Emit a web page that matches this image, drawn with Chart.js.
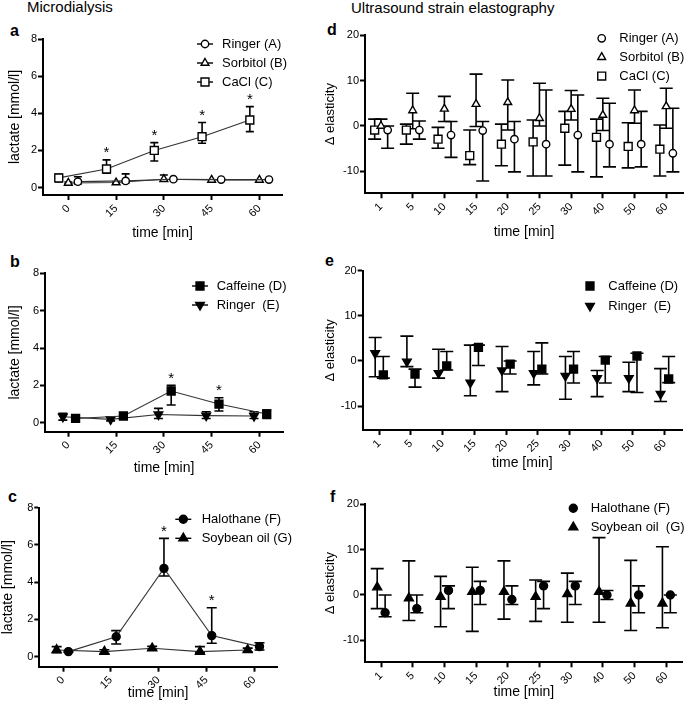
<!DOCTYPE html>
<html>
<head>
<meta charset="utf-8">
<script src="https://cdn.jsdelivr.net/npm/chart.js@4.4.0/dist/chart.umd.min.js"></script>
<style>
body { margin: 0; background: #fff; width: 685px; height: 709px; position: relative; overflow: hidden; font-family: "Liberation Sans", Arial, sans-serif; color: #000; }
canvas { position: absolute; }
.lbl { position: absolute; white-space: pre; line-height: 1; }
.big { font-size: 15px; }
.let { font-size: 16px; font-weight: bold; }
</style>
</head>
<body>
<div class="lbl big" style="left:27px; top:-1px;">Microdialysis</div>
<div class="lbl big" style="left:351px; top:0px;">Ultrasound strain elastography</div>
<div class="lbl let" style="left:10px; top:23px;">a</div>
<div class="lbl let" style="left:10px; top:254px;">b</div>
<div class="lbl let" style="left:8px; top:489px;">c</div>
<div class="lbl let" style="left:327px; top:22px;">d</div>
<div class="lbl let" style="left:325px; top:253px;">e</div>
<div class="lbl let" style="left:330px; top:489px;">f</div>
<script>
// x categories
var timeValues = [0, 15, 30, 45, 60];
var timeLabels = ['0', '15', '30', '45', '60'];
var elastValues = [0, 1, 2, 3, 4, 5, 6, 7, 8, 9];
var elastLabels = ['1', '5', '10', '15', '20', '25', '30', '40', '50', '60'];
var lactateTicks = [0, 2, 4, 6, 8];
var elastTicks = [-10, 0, 10, 20];

// a: microdialysis lactate, Ringer / Sorbitol / CaCl
var ringerA = [0.32, 0.36, 0.45, 0.43, 0.43];
var ringerAHi = [0.58, 0.74, 0.45, 0.43, 0.43];
var ringerALo = [0.2, 0.25, 0.45, 0.43, 0.43];
var sorbitolB = [0.25, 0.27, 0.45, 0.41, 0.41];
var sorbitolBHi = [0.3, 0.3, 0.68, 0.41, 0.41];
var sorbitolBLo = [0.2, 0.2, 0.35, 0.41, 0.41];
var caclC = [0.52, 1.0, 2.0, 2.74, 3.64];
var caclCHi = [0.72, 1.49, 2.42, 3.5, 4.36];
var caclCLo = [0.3, 0.77, 1.43, 2.39, 3.01];
var caclStars = [0, 1, 1, 1, 1];

// b: caffeine / ringer
var caffeineD = [0.23, 0.36, 1.7, 1.0, 0.47];
var caffeineDHi = [0.23, 0.36, 2.0, 1.34, 0.68];
var caffeineDLo = [0.23, 0.36, 0.95, 0.63, 0.23];
var caffeineStars = [0, 0, 1, 1, 0];
var ringerE = [0.32, 0.18, 0.44, 0.38, 0.36];
var ringerEHi = [0.5, 0.32, 0.77, 0.59, 0.59];
var ringerELo = [0.14, 0.1, 0.23, 0.23, 0.23];

// c: halothane / soybean oil
var halothaneF = [0.27, 1.07, 4.74, 1.13, 0.54];
var halothaneFHi = [0.3, 1.4, 6.35, 2.63, 0.75];
var halothaneFLo = [0.24, 0.68, 4.33, 0.72, 0.36];
var halothaneStars = [0, 0, 1, 1, 0];
var soybeanG = [0.36, 0.27, 0.45, 0.27, 0.36];
var soybeanGHi = [0.54, 0.37, 0.55, 0.54, 0.46];
var soybeanGLo = [0.21, 0.17, 0.35, 0.2, 0.26];

// d: elastography, Ringer / Sorbitol / CaCl
var elRingerA = [-0.9, -0.9, -2.0, -1.0, -2.9, -4.0, -2.0, -4.0, -4.0, -6.0];
var elRingerAHi = [0, 1.1, 1.0, 1.0, 1.0, 7.9, 6.8, 5.0, 3.2, 3.9];
var elRingerALo = [-4.9, -2.9, -6.9, -12.1, -10.1, -11, -10.1, -9.0, -9.0, -10.1];
var elSorbitolB = [0, 3.4, 3.75, 4.8, 5.2, 1.7, 3.7, 2.4, 3.4, 4.3];
var elSorbitolBHi = [1.5, 7.2, 6.5, 11.4, 10.1, 9.4, 7.8, 6.1, 7.9, 8.3];
var elSorbitolBLo = [-0.5, -0.6, 1.0, -0.1, -0.9, 0, 1.3, -1.0, 0.6, -0.5];
var elCaclC = [-0.9, -0.9, -2.9, -6.5, -4.0, -3.5, -0.5, -2.5, -4.5, -5.1];
var elCaclCHi = [1.5, 0.4, -0.3, -0.9, 0.4, 1.3, 3.2, 1.5, 0.7, 0.2];
var elCaclCLo = [-2.9, -4.0, -4.9, -8.5, -8.75, -11, -8.6, -11.2, -9.2, -11];

// e: caffeine / ringer
var elCaffeineD = [-3.1, -2.9, -1.1, 3.0, -0.7, -1.8, -1.8, 0.2, 1.1, -4.0];
var elCaffeineDHi = [1.0, -1.8, 2.1, 3.5, 0, 4.0, 2.1, 1.0, 1.7, 1.0];
var elCaffeineDLo = [-3.8, -5.8, -2.0, -1.0, -2.9, -2.9, -4.9, -4.9, -7.0, -4.8];
var elRingerE = [1.7, -0.15, -2.7, -4.8, -2.1, -2.7, -3.3, -3.8, -3.8, -7.3];
var elRingerEHi = [5.2, 5.5, 2.6, 3.5, 3.2, 2.1, 1.0, -2.1, -0.3, -1.7];
var elRingerELo = [-3.5, -1.25, -3.8, -7.7, -6.8, -5.3, -8.5, -7.9, -6.8, -9.0];

// f: halothane / soybean oil
var elHalothaneF = [-3.9, -3.0, 1.0, 1.0, -1.0, 2.0, 2.0, 0.0, 0.0, 0.0];
var elHalothaneFHi = [0, 0, 2.0, 3.0, 2.0, 3.0, 3.0, 1.0, 2.0, 0];
var elHalothaneFLo = [-4.8, -3.9, -3.0, -2.1, -2.1, -3.0, -2.1, -1.0, -3.9, -3.9];
var elSoybeanG = [1.7, -0.7, -0.4, 0.7, 0.7, -0.4, 0.2, 0.7, -1.85, -1.85];
var elSoybeanGHi = [5.8, 7.5, 4.1, 6.1, 7.5, 3.3, 4.8, 12.6, 7.6, 10.6];
var elSoybeanGLo = [-3.0, -5.6, -7.0, -8.0, -5.3, -5.8, -6.0, -6.0, -7.8, -7.2];

Chart.defaults.font.family = '"Liberation Sans", Arial, sans-serif';
Chart.defaults.color = '#000';

// marker looks
var openCircle = { pointStyle: 'circle', r: 3.7, fill: '#fff' };
var openTri = { pointStyle: 'triangle', r: 4.5, fill: '#fff' };
var openSquare = { pointStyle: 'rect', r: 5.6, fill: '#fff' };
var fillSquare = { pointStyle: 'rect', r: 5.6, fill: '#000' };
var fillDown = { pointStyle: 'triangle', r: 5, fill: '#000', rot: 180 };
var fillCircle = { pointStyle: 'circle', r: 4, fill: '#000' };
var fillTri = { pointStyle: 'triangle', r: 5.2, fill: '#000' };

// error bars drawn under the markers, stars above the bars
var errorBars = {
  id: 'errorBars',
  beforeDatasetsDraw: function (chart, args, opts) {
    var ctx = chart.ctx, ys = chart.scales.y;
    ctx.save();
    ctx.strokeStyle = '#000';
    ctx.lineWidth = 1.6;
    chart.data.datasets.forEach(function (ds, i) {
      var meta = chart.getDatasetMeta(i);
      meta.data.forEach(function (pt, j) {
        var top = ys.getPixelForValue(ds.errHi[j]);
        var bot = ys.getPixelForValue(ds.errLo[j]);
        if (Math.abs(bot - top) < 1) return;
        ctx.beginPath();
        ctx.moveTo(pt.x, top); ctx.lineTo(pt.x, bot);
        ctx.moveTo(pt.x - opts.cap, top); ctx.lineTo(pt.x + opts.cap, top);
        ctx.moveTo(pt.x - opts.cap, bot); ctx.lineTo(pt.x + opts.cap, bot);
        ctx.stroke();
      });
    });
    ctx.restore();
  },
  afterDatasetsDraw: function (chart) {
    var ctx = chart.ctx, ys = chart.scales.y;
    ctx.save();
    ctx.fillStyle = '#000';
    ctx.font = '15px "Liberation Sans", Arial, sans-serif';
    ctx.textAlign = 'center';
    ctx.textBaseline = 'alphabetic';
    chart.data.datasets.forEach(function (ds, i) {
      if (!ds.stars) return;
      var meta = chart.getDatasetMeta(i);
      meta.data.forEach(function (pt, j) {
        if (!ds.stars[j]) return;
        ctx.fillText('*', pt.x, ys.getPixelForValue(ds.errHi[j]) - 2.5);
      });
    });
    ctx.restore();
  }
};

// legend in the upper right of each panel
var sideLegend = {
  id: 'sideLegend',
  afterDraw: function (chart, args, opts) {
    var ctx = chart.ctx;
    ctx.save();
    ctx.font = '13px "Liberation Sans", Arial, sans-serif';
    ctx.textBaseline = 'middle';
    chart.data.datasets.forEach(function (ds, i) {
      var y = opts.y + i * opts.gap;
      ctx.strokeStyle = '#000';
      ctx.lineWidth = 1.4;
      if (opts.line) {
        ctx.beginPath();
        ctx.moveTo(opts.x - opts.line / 2, y);
        ctx.lineTo(opts.x + opts.line / 2, y);
        ctx.stroke();
      }
      ctx.fillStyle = ds.pointBackgroundColor;
      ctx.beginPath();
      Chart.helpers.drawPoint(ctx, {
        pointStyle: ds.pointStyle, radius: ds.pointRadius,
        rotation: ds.pointRotation || 0, borderWidth: ds.pointBorderWidth
      }, opts.x, y);
      ctx.fillStyle = '#000';
      ctx.fillText(ds.label, opts.textX, y);
    });
    ctx.restore();
  }
};

function makeSeries(label, xs, shift, ys, lo, hi, look, joined, stars) {
  return {
    label: label,
    data: xs.map(function (x, i) { return { x: x + shift, y: ys[i] }; }),
    errLo: lo,
    errHi: hi,
    stars: stars,
    showLine: joined,
    borderColor: '#333',
    borderWidth: 1.1,
    tension: 0,
    pointStyle: look.pointStyle,
    pointRadius: look.r,
    pointHoverRadius: look.r,
    pointRotation: look.rot || 0,
    pointBackgroundColor: look.fill,
    pointBorderColor: '#000',
    pointBorderWidth: 1.4
  };
}

function makePanel(p) {
  var cv = document.createElement('canvas');
  cv.width = p.box[2];
  cv.height = p.box[3];
  cv.style.left = p.box[0] + 'px';
  cv.style.top = p.box[1] + 'px';
  document.body.appendChild(cv);
  var yW = p.plot[0] - p.box[0];
  var xH = p.xAxisH;
  new Chart(cv, {
    type: 'line',
    data: { datasets: p.series },
    options: {
      responsive: false,
      animation: false,
      events: [],
      layout: {
        autoPadding: false,
        padding: {
          left: 0,
          top: p.plot[1] - p.box[1],
          right: p.box[0] + p.box[2] - p.plot[2],
          bottom: p.box[1] + p.box[3] - p.plot[3] - xH
        }
      },
      scales: {
        x: {
          type: 'linear',
          min: p.xMin, max: p.xMax,
          afterBuildTicks: function (s) { s.ticks = p.xVals.map(function (v) { return { value: v }; }); },
          afterFit: function (s) { s.height = xH; },
          ticks: {
            autoSkip: false, minRotation: 45, maxRotation: 45, padding: 2,
            font: { size: 11 },
            callback: function (v) { return p.xLabels[p.xVals.indexOf(v)]; }
          },
          grid: { drawOnChartArea: false, drawTicks: true, tickLength: 5, color: '#000', tickWidth: 2 },
          border: { display: true, color: '#000', width: 2 },
          title: { display: true, text: 'time [min]', font: { size: 14, weight: 'normal' }, padding: { top: 0, bottom: 0 } }
        },
        y: {
          type: 'linear',
          min: p.yMin, max: p.yMax,
          afterBuildTicks: function (s) { s.ticks = p.yTicks.map(function (v) { return { value: v }; }); },
          afterFit: function (s) { s.width = yW; },
          ticks: { padding: 1, font: { size: 11 } },
          grid: { drawOnChartArea: false, drawTicks: true, tickLength: 5, color: '#000', tickWidth: 2 },
          border: { display: true, color: '#000', width: 2 },
          title: { display: true, text: p.yTitle, font: { size: p.yTitleSize, weight: 'normal' }, padding: { top: p.yTitlePad, bottom: 0 } }
        }
      },
      plugins: {
        legend: { display: false },
        tooltip: { enabled: false },
        errorBars: { cap: p.cap },
        sideLegend: {
          x: p.legend.x - p.box[0], y: p.legend.y - p.box[1],
          gap: p.legend.gap, textX: p.legend.textX - p.box[0], line: p.legend.line
        }
      }
    },
    plugins: [errorBars, sideLegend]
  });
}

// a
makePanel({
  box: [0, 0, 340, 250], plot: [43, 39, 282, 195], xAxisH: 46.4,
  xMin: -7.95, xMax: 67.1, xVals: timeValues, xLabels: timeLabels,
  yMin: -0.4, yMax: 8, yTicks: lactateTicks,
  yTitle: 'lactate [mmol/l]', yTitleSize: 14, yTitlePad: 6.6, cap: 4,
  legend: { x: 205, y: 44, gap: 19, textX: 222, line: 16 },
  series: [
    makeSeries('Ringer (A)', timeValues, 3, ringerA, ringerALo, ringerAHi, openCircle, true),
    makeSeries('Sorbitol (B)', timeValues, 0, sorbitolB, sorbitolBLo, sorbitolBHi, openTri, true),
    makeSeries('CaCl (C)', timeValues, -3, caclC, caclCLo, caclCHi, openSquare, true, caclStars)
  ]
});

// b
makePanel({
  box: [0, 250, 340, 230], plot: [45, 273.3, 283, 431.7], xAxisH: 44.4,
  xMin: -7.3, xMax: 67.4, xVals: timeValues, xLabels: timeLabels,
  yMin: -0.48, yMax: 8, yTicks: lactateTicks,
  yTitle: 'lactate [mmol/l]', yTitleSize: 14, yTitlePad: 6.6, cap: 4.5,
  legend: { x: 200, y: 286, gap: 19, textX: 216.7, line: 16 },
  series: [
    makeSeries('Caffeine (D)', timeValues, 2.3, caffeineD, caffeineDLo, caffeineDHi, fillSquare, true, caffeineStars),
    makeSeries('Ringer  (E)', timeValues, -1.7, ringerE, ringerELo, ringerEHi, fillDown, true)
  ]
});

// c
makePanel({
  box: [0, 480, 340, 229], plot: [39.3, 507.7, 277, 666.7], xAxisH: 35,
  xMin: -7.45, xMax: 67.2, xVals: timeValues, xLabels: timeLabels,
  yMin: -0.54, yMax: 8, yTicks: lactateTicks,
  yTitle: 'lactate [mmol/l]', yTitleSize: 14, yTitlePad: 0, cap: 5,
  legend: { x: 183.3, y: 519.3, gap: 19, textX: 201.7, line: 16 },
  series: [
    makeSeries('Halothane (F)', timeValues, 1.7, halothaneF, halothaneFLo, halothaneFHi, fillCircle, true, halothaneStars),
    makeSeries('Soybean oil (G)', timeValues, -2.0, soybeanG, soybeanGLo, soybeanGHi, fillTri, true)
  ]
});

// d
makePanel({
  box: [320, 0, 365, 250], plot: [365, 35, 683, 193.3], xAxisH: 46.8,
  xMin: -0.505, xMax: 9.53, xVals: elastValues, xLabels: elastLabels,
  yMin: -14.8, yMax: 20, yTicks: elastTicks,
  yTitle: 'Δ elasticity', yTitleSize: 13, yTitlePad: 2.2, cap: 6.5,
  legend: { x: 601.7, y: 38.3, gap: 18.9, textX: 619.3, line: 0 },
  series: [
    makeSeries('Ringer (A)', elastValues, 0.21, elRingerA, elRingerALo, elRingerAHi, openCircle, false),
    makeSeries('Sorbitol (B)', elastValues, 0, elSorbitolB, elSorbitolBLo, elSorbitolBHi, openTri, false),
    makeSeries('CaCl (C)', elastValues, -0.2, elCaclC, elCaclCLo, elCaclCHi, openSquare, false)
  ]
});

// e
makePanel({
  box: [320, 250, 365, 230], plot: [362.7, 270.7, 682, 430], xAxisH: 41.4,
  xMin: -0.52, xMax: 9.55, xVals: elastValues, xLabels: elastLabels,
  yMin: -15.3, yMax: 20, yTicks: elastTicks,
  yTitle: 'Δ elasticity', yTitleSize: 13, yTitlePad: 2.2, cap: 6.5,
  legend: { x: 590, y: 286, gap: 20, textX: 608.3, line: 0 },
  series: [
    makeSeries('Caffeine (D)', elastValues, 0.13, elCaffeineD, elCaffeineDLo, elCaffeineDHi, fillSquare, false),
    makeSeries('Ringer  (E)', elastValues, -0.126, elRingerE, elRingerELo, elRingerEHi, fillDown, false)
  ]
});

// f
makePanel({
  box: [320, 480, 365, 229], plot: [365, 504, 682.7, 662.3], xAxisH: 38.4,
  xMin: -0.505, xMax: 9.52, xVals: elastValues, xLabels: elastLabels,
  yMin: -14.8, yMax: 20, yTicks: elastTicks,
  yTitle: 'Δ elasticity', yTitleSize: 13, yTitlePad: 2.2, cap: 6.5,
  legend: { x: 573.3, y: 508.3, gap: 19, textX: 590.7, line: 0 },
  series: [
    makeSeries('Halothane (F)', elastValues, 0.13, elHalothaneF, elHalothaneFLo, elHalothaneFHi, fillCircle, false),
    makeSeries('Soybean oil  (G)', elastValues, -0.12, elSoybeanG, elSoybeanGLo, elSoybeanGHi, fillTri, false)
  ]
});
</script>
</body>
</html>
